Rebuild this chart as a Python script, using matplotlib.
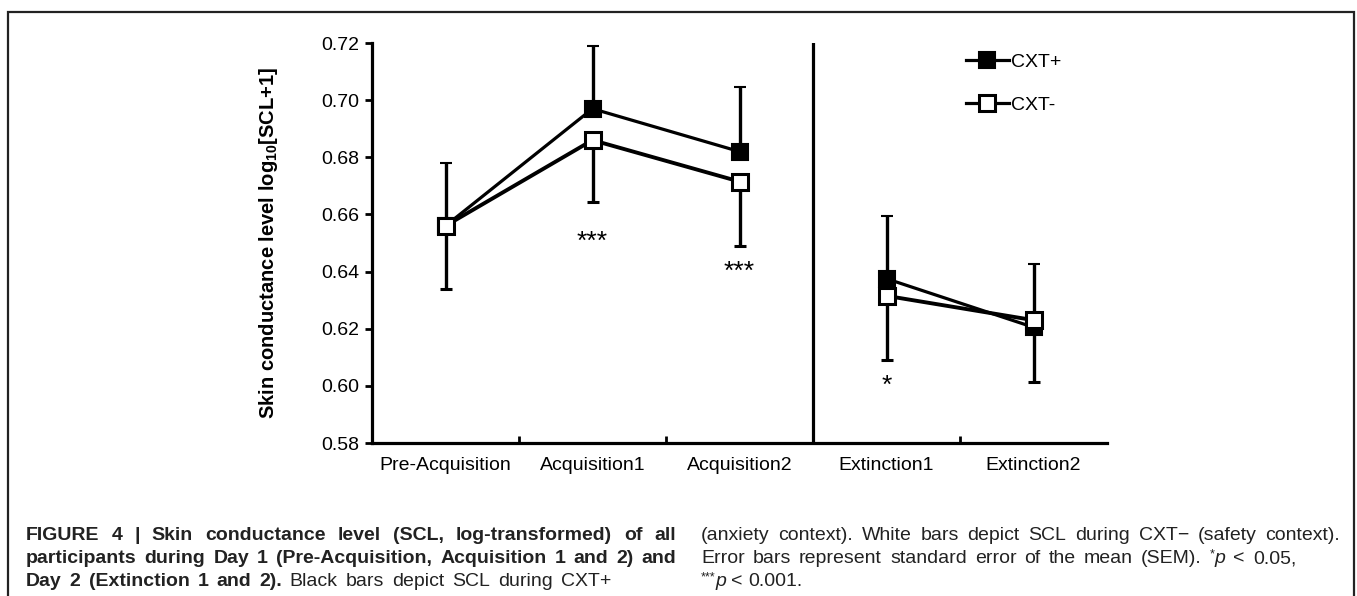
import numpy as np
import matplotlib
matplotlib.use("Agg")
import matplotlib.pyplot as plt
from matplotlib.lines import Line2D
from matplotlib.patches import Rectangle

plt.rcParams['font.family'] = ['Liberation Sans', 'DejaVu Sans']
plt.rcParams['mathtext.fontset'] = 'custom'
plt.rcParams['mathtext.rm'] = 'Liberation Sans'
plt.rcParams['mathtext.it'] = 'Liberation Sans:italic'
plt.rcParams['mathtext.bf'] = 'Liberation Sans:bold'

# --- data ---
phases = ['Pre-Acquisition', 'Acquisition1', 'Acquisition2', 'Extinction1', 'Extinction2']
cxt_plus = [0.656, 0.697, 0.682, 0.6375, 0.6205]
cxt_plus_sem = [0.022, 0.022, 0.0225, 0.022, 0.022]
cxt_minus = [0.656, 0.686, 0.6715, 0.6315, 0.623]
cxt_minus_sem = [0.022, 0.0217, 0.0227, 0.0223, 0.0218]
stars = ['', '***', '***', '*', '']
star_y = [0, 0.6505, 0.640, 0.600, 0]
day1 = [0, 1, 2]
day2 = [3, 4]

W, H = 1357, 596
fig = plt.figure(figsize=(W / 100, H / 100), dpi=100)
ax = fig.add_axes([372 / W, 1 - 443 / H, 735 / W, 400 / H])

x = np.arange(len(phases)) + 0.5
cp = np.array(cxt_plus)
cm = np.array(cxt_minus)
ep = np.array(cxt_plus_sem)
em = np.array(cxt_minus_sem)

for idx in (day1, day2):
    ax.errorbar(x[idx], cp[idx], yerr=[np.zeros(len(idx)), ep[idx]], color='black',
                lw=2.3, elinewidth=2.4, capsize=4, capthick=2.4,
                marker='s', ms=11, mfc='black', mec='black', mew=1.5, zorder=3)
for idx in (day1, day2):
    ax.errorbar(x[idx], cm[idx], yerr=[em[idx], np.zeros(len(idx))], color='black',
                lw=2.8, elinewidth=2.4, capsize=4, capthick=2.4,
                marker='s', ms=11, mfc='white', mec='black', mew=2.2, zorder=4)

for xi, s, yi in zip(x, stars, star_y):
    if s:
        ax.text(xi, yi, s, ha='center', va='center', fontsize=19)

ax.axvline(3, color='black', lw=2.3)

ax.set_xlim(0, 5)
ax.set_ylim(0.58, 0.72)
yt = np.arange(0.58, 0.7201, 0.02)
ax.set_yticks(yt)
ax.set_yticklabels([f'{v:.2f}' for v in yt], fontsize=14)
ax.set_xticks([1, 2, 3, 4])
ax.set_xticklabels([])
ax.set_xticks(x, minor=True)
ax.set_xticklabels(phases, minor=True, fontsize=14)
ax.tick_params(axis='x', which='major', direction='in', length=5, width=2)
ax.tick_params(axis='x', which='minor', length=0, pad=10)
ax.tick_params(axis='y', direction='out', length=5, width=2, pad=4)
for s in ['top', 'right']:
    ax.spines[s].set_visible(False)
for s in ['left', 'bottom']:
    ax.spines[s].set_linewidth(2.3)
ax.set_ylabel('Skin conductance level log$_{\\mathbf{10}}$[SCL+1]', fontsize=14.5,
              fontweight='bold', labelpad=30)

handles = [Line2D([], [], color='black', lw=2.3, marker='s', ms=12, mfc='black', mec='black', mew=1.5),
           Line2D([], [], color='black', lw=2.3, marker='s', ms=12, mfc='white', mec='black', mew=2.2)]
fig.legend(handles, ['CXT+', 'CXT-'], loc='upper left', bbox_to_anchor=(966 / W, 1 - 53 / H),
           frameon=False, fontsize=14, handlelength=2.2, handletextpad=0.1,
           labelspacing=1.3, borderpad=0, borderaxespad=0)

# outer frame
fig.patches.append(Rectangle((8 / W, -0.1), 1346 / W, 1.1 - 12 / H, transform=fig.transFigure,
                             fill=False, lw=1.6, ec='#222222'))

# caption, justified word by word
fig.canvas.draw()
renderer = fig.canvas.get_renderer()
CAP = 14


def caption_line(wordlist, x0, x1, y, gap=None):
    # each word is a list of pieces (text, weight, style, size, raise_px)
    placed = []
    for word in wordlist:
        pieces = []
        for txt, wt, st, sz, dy in word:
            a = fig.text(0, 0, txt, fontsize=sz, fontweight=wt, fontstyle=st,
                         color='#222222', va='baseline', ha='left')
            pieces.append((a, a.get_window_extent(renderer).width, dy))
        placed.append(pieces)
    widths = [sum(p[1] for p in pcs) for pcs in placed]
    if gap is None:
        gap = (x1 - x0 - sum(widths)) / max(len(placed) - 1, 1)
    xp = x0
    for pcs, wd in zip(placed, widths):
        xx = xp
        for a, pw, dy in pcs:
            a.set_position((xx / W, 1 - (y - dy) / H))
            xx += pw
        xp += wd + gap


def words(s, wt='normal'):
    return [[(w, wt, 'normal', CAP, 0)] for w in s.split()]


def pval(st, rest):
    return [[(st, 'normal', 'normal', 9, 6), ('p', 'normal', 'italic', CAP, 0)]] + words('< ' + rest)


caption_line(words('FIGURE 4 | Skin conductance level (SCL, log-transformed) of all', 'bold'),
             26, 676, 540)
caption_line(words('participants during Day 1 (Pre-Acquisition, Acquisition 1 and 2) and', 'bold'),
             26, 676, 563)
caption_line(words('Day 2 (Extinction 1 and 2).', 'bold') + words('Black bars depict SCL during CXT+'),
             26, None, 586, gap=8)
caption_line(words('(anxiety context). White bars depict SCL during CXT\u2212 (safety context).'),
             701, 1340, 540)
caption_line(words('Error bars represent standard error of the mean (SEM).') + pval('*', '0.05,'),
             701, None, 563, gap=8)
caption_line(pval('***', '0.001.'), 701, None, 586, gap=5)

fig.savefig('out.png', dpi=100)
